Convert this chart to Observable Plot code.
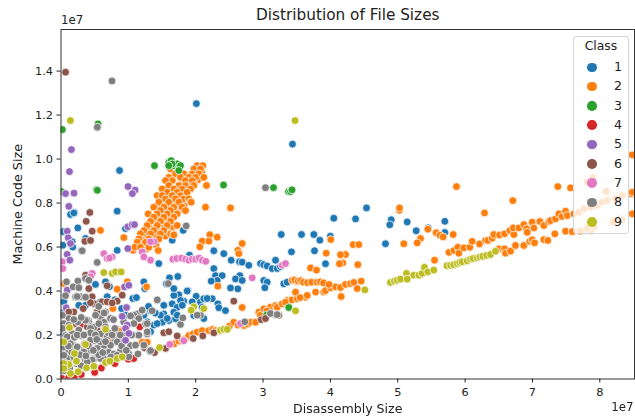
<!DOCTYPE html>
<html>
<head>
<meta charset="utf-8">
<script src="https://cdn.jsdelivr.net/npm/d3@7"></script>
<script src="https://cdn.jsdelivr.net/npm/@observablehq/plot@0.6"></script>
<style>
html,body{margin:0;padding:0;background:#fff;overflow:hidden}
#wrap{position:relative;width:635px;height:416px;font-family:"DejaVu Sans",sans-serif;color:#222;filter:blur(.35px)}
#legend{position:absolute;left:573px;top:36px;width:54px;height:196px;background:rgba(255,255,255,.8);border:1px solid #d6d6d6;border-radius:3px;font-size:12.6px;box-sizing:content-box}
#legend .t{position:absolute;left:0;width:54px;top:2px;text-align:center;line-height:14px;font-size:12.4px}
#legend .m{position:absolute;left:13px;width:9.5px;height:9.5px;border-radius:50%}
#legend .l{position:absolute;left:34px;width:20px;text-align:center;line-height:14px}
</style>
</head>
<body>
<div id="wrap"></div>
<script>
// All values are in units of 1e7 (as the axis offset text says)
const classes = ["1","2","3","4","5","6","7","8","9"];
const colors = ["#1f77b4","#ff7f0e","#2ca02c","#d62728","#9467bd","#8c564b","#e377c2","#7f7f7f","#bcbd22"];
const xTicks = [0,1,2,3,4,5,6,7,8];
const yTicks = [0,.2,.4,.6,.8,1.0,1.2,1.4];
const xMax = 8.515, yMax = 1.589;

const class1 = [[.834,.763],[.2,.757],[.141,.748],[.25,.687],[.958,.684],[1.814,.676],[1.651,.631],[.834,.585],[.027,.67],[.027,.608],[.166,.624],[.364,.639],[.304,.584],[1.452,.525],[1.908,.563],[2.269,.583],[2.417,.57],[2.527,.54],[2.64,.578],[2.65,.533],[2.69,.531],[2.788,.517],[2.269,.502],[2.962,.525],[3.01,.52],[3.061,.514],[3.185,.54],[3.136,.502],[3.21,.502],[3.259,.511],[3.27,.657],[3.571,.657],[3.754,.657],[3.843,.631],[3.422,.578],[3.764,.583],[2.294,.47],[2.393,.47],[2.319,.448],[2.23,.445],[2.655,.47],[2.591,.455],[2.69,.448],[2.625,.41],[2.517,.414],[3.011,.448],[3.061,.44],[3.026,.415],[1.611,.46],[1.734,.466],[1.883,.402],[1.749,.383],[1.675,.38],[2.007,.376],[1.823,.354],[2.071,.349],[2.245,.365],[2.329,.342],[2.343,.324],[2.442,.311],[1.651,.342],[1.774,.357],[1.725,.326],[1.526,.296],[1.675,.304],[1.6,.266],[1.503,.258],[1.7,.274],[2.096,.326],[2.12,.365],[1.972,.289],[1.526,.335],[1.8,.335],[1.725,.29],[1.477,.29],[1.378,.245],[1.28,.26],[1.23,.29],[1.329,.215],[1.428,.252],[1.577,.275],[1.23,.442],[1.244,.411],[1.066,.366],[.512,.43],[.661,.442],[.686,.374],[.586,.351],[.364,.335],[.265,.335],[.042,.351],[1.675,.411],[1.873,.4],[1.948,.351],[2.17,.366],[2.12,.275],[2.022,.29],[4.536,.778],[4.05,.731],[4.373,.728],[4.903,.724],[4.882,.701],[4.818,.615],[4.0,.649],[3.927,.524],[3.308,.433],[3.358,.44],[5.14,.714],[5.274,.674],[5.452,.687],[5.699,.717],[5.699,.666],[.19,.755],[.175,.6],[1.566,.433],[2.01,1.252],[3.437,1.068],[.869,.948],[.96,.29],[.9,.32],[.8,.36],[.72,.42],[.02,.3],[.03,.21],[1.12,.37],[1.4,.3],[1.33,.31],[1.3,.33]];

const class2Blob = [[2.05,.965],[1.99,.945],[1.93,.925],[1.87,.91],[2.09,.94],[2.03,.905],[1.97,.89],[1.91,.875],[1.83,.89],[1.78,.875],[1.72,.865],[1.66,.85],[1.62,.87],[1.56,.845],[1.84,.84],[1.79,.82],[1.74,.825],[1.66,.8],[1.58,.79],[1.53,.81],[1.47,.79],[1.83,.79],[1.76,.77],[1.7,.755],[1.64,.745],[1.55,.72],[1.6,.73],[1.5,.75],[1.44,.73],[1.4,.71],[1.35,.7],[1.31,.69],[1.52,.695],[1.65,.69],[1.45,.665],[1.4,.65],[1.55,.65],[1.28,.65],[1.22,.63],[1.36,.62],[1.2,.61],[1.41,.61],[1.14,.6],[1.26,.59],[1.07,.585],
[2.022,.97],[2.106,.97],[1.626,.955],[1.972,.955],[2.071,.955],[1.7,.933],[1.948,.933],[2.047,.933],[1.824,.933],[1.601,.917],[1.774,.917],[1.898,.917],[1.997,.917],[2.121,.917],[1.651,.902],[1.552,.902],[1.849,.902],[1.948,.902],[1.601,.88],[1.75,.88],[1.849,.88],[1.972,.88],[2.16,.88],[1.502,.864],[1.675,.864],[1.799,.864],[1.923,.864],[1.576,.849],[1.725,.849],[1.873,.849],[1.428,.834],[1.502,.834],[1.651,.834],[1.774,.834],[1.552,.819],[1.7,.819],[1.824,.819],[1.898,.819],[1.453,.804],[1.601,.804],[1.75,.804],[1.923,.804],[1.378,.781],[1.527,.781],[1.675,.781],[1.799,.781],[1.477,.766],[1.626,.766],[1.849,.766],[1.294,.751],[1.428,.751],[1.576,.751],[1.725,.751],[1.378,.736],[1.527,.736],[1.675,.736],[1.329,.717],[1.477,.717],[1.626,.717],[1.279,.698],[1.428,.698],[1.576,.698],[1.725,.698],[1.23,.675],[1.378,.675],[1.527,.675],[1.18,.66],[1.329,.66],[1.477,.66],[1.626,.66],[1.675,.66],[1.156,.637],[1.304,.637],[1.453,.637],[1.131,.622],[1.255,.622],[1.096,.599],[1.18,.599],[1.304,.599]];
const class2Scattered = [[2.145,.781],[2.21,.656],[2.096,.627],[2.195,.627],[2.319,.645],[1.443,.584],[1.675,.655],[2.517,.778],[1.933,.804],[.933,.643],[.586,.676],[.834,.408],[1.27,.419],[2.329,.422],[2.061,.601],[2.69,.616],[2.625,.585],[2.64,.57],[2.69,.325],[3.705,.505],[3.794,.495],[3.482,.389],[3.507,.442],[3.938,.572],[4.224,.566],[4.15,.565],[4.184,.528],[4.135,.524],[4.407,.52],[4.338,.611],[4.422,.611],[4.006,.634],[4.16,.375],[5.026,.767],[6.288,.755],[5.447,.681],[5.571,.665],[5.625,.654],[5.674,.646],[5.823,.657],[5.338,.639],[5.289,.619],[5.09,.615],[5.546,.54],[8.48,1.019],[7.377,.875],[7.565,.869],[5.872,.875],[6.708,.811],[5.026,.778],[8.48,.842],[.597,.179],[.76,.167],[.859,.223],[.81,.197],[1.206,.167],[1.28,.167],[.77,.32],[.86,.217],[.985,.442],[.042,.434]];
const class2Lower = [[1.68,.16],[1.75,.172],[1.8,.178],[1.849,.183],[1.898,.198],[1.96,.205],[2.022,.213],[2.096,.22],[2.195,.22],[2.25,.225],[2.294,.22],[2.35,.218],[2.442,.228],[2.5,.24],[2.566,.258],[2.63,.245],[2.715,.243],[2.77,.25],[2.814,.258],[2.888,.258],[2.937,.304],[2.96,.29],[3.012,.319],[3.11,.327],[3.06,.31],[3.185,.334],[3.21,.326],[3.284,.342],[3.358,.357],[3.383,.334],[3.333,.349],[3.43,.36],[3.507,.365],[3.482,.395],[3.63,.372],[3.655,.38],[3.55,.37],[3.78,.395],[3.902,.396],[3.927,.402],[4.0,.415],[4.076,.419],[4.15,.416],[4.224,.43],[4.298,.434],[4.348,.439],[4.398,.411],[4.457,.445],[3.433,.448],[3.47,.45],[3.52,.445],[3.56,.447],[3.6,.44],[3.66,.438],[3.72,.44],[3.804,.44],[3.85,.442],[3.898,.437],[3.98,.43]];
const class2Upper = [[5.759,.576],[5.833,.584],[5.892,.599],[5.907,.572],[5.981,.596],[6.07,.599],[6.105,.626],[6.214,.614],[6.303,.63],[6.338,.63],[6.402,.64],[6.427,.657],[6.511,.655],[6.585,.66],[6.664,.675],[6.724,.657],[6.714,.687],[6.798,.687],[6.872,.702],[6.912,.683],[6.922,.667],[6.996,.713],[7.021,.687],[7.11,.716],[7.169,.698],[7.243,.716],[7.268,.72],[7.342,.728],[7.392,.751],[7.441,.739],[7.491,.763],[7.516,.743],[7.614,.751],[7.689,.758],[7.763,.774],[7.862,.781],[7.961,.789],[8.035,.804],[8.109,.811],[8.109,.849],[8.233,.819],[8.332,.834],[8.456,.842],[8.48,.849],[7.897,.917],[7.812,.895],[8.094,.854]];
const class2Bottom = [[6.501,.592],[6.585,.592],[6.6,.572],[6.674,.581],[6.748,.607],[6.872,.607],[6.961,.626],[6.996,.633],[7.031,.619],[7.169,.634],[7.228,.63],[7.332,.66],[7.491,.672],[7.59,.67],[7.812,.69],[7.911,.69],[7.862,.675],[8.208,.72],[8.307,.728],[8.48,.751],[8.2,.714],[8.33,.722],[7.81,.684],[7.71,.672]];

const class3 = [[.55,1.16],[.54,1.143],[.02,1.134],[.007,.852],[.527,.861],[.54,.858],[1.388,.97],[2.413,.882],[3.155,.87],[3.378,.852],[3.408,.852],[3.43,.86],[1.6,.985],[1.636,.993],[1.675,.97],[1.725,.978],[1.774,.97],[1.749,.948],[1.651,.978],[1.6,.97],[3.051,.29],[3.382,.325]];
const class4 = [[.02,.002],[.111,.004],[.2,.012],[.3,.02],[.5,.03],[.6,.05],[.8,.07],[1.0,.09],[1.08,.093],[.24,.245],[.315,.25],[1.17,.237]];
const class5 = [[.155,1.043],[.126,.943],[.995,.875],[1.10,.859],[1.06,.843],[.067,.843],[.193,.845],[.116,.785],[.092,.672],[.107,.642],[.141,.616],[.092,.567],[.131,.54],[.992,.692],[1.057,.702],[1.091,.702],[.992,.593],[.077,.324],[.943,.419],[1.007,.426],[.092,.404]];
const class5Top = [[.973,.325],[.909,.285],[.983,.245],[.958,.23],[1.007,.207],[.958,.176]];
const class6 = [[.067,1.395],[.428,.757],[.374,.717],[.463,.672],[.354,.626],[.438,.63],[.33,.32],[.686,.424],[.463,.374],[.487,.343],[.438,.347],[.611,.351],[.686,.351],[.834,.354],[.909,.381],[.76,.346],[.413,.411],[.215,.252],[.537,.305],[.19,.305],[.116,.305],[2.566,.354],[1.526,.21],[1.6,.215],[1.725,.196],[1.24,.142],[1.388,.12],[1.552,.139],[1.963,.184],[2.105,.196],[2.269,.21],[2.973,.27],[3.036,.275],[3.234,.29],[3.185,.293],[.364,.472],[.537,.222],[.389,.237],[.909,.199]];
const class7 = [[.636,.57],[.686,.548],[.76,.555],[.72,.55],[.018,.533],[.027,.502],[.463,.48],[.438,.465],[1.329,.54],[1.206,.578],[1.23,.555],[1.378,.624],[1.329,.624],[1.66,.545],[1.72,.548],[1.79,.55],[1.85,.545],[1.9,.54],[1.95,.545],[2.0,.545],[2.05,.55],[2.1,.54],[2.15,.535],[2.839,.46],[3.284,.517],[3.333,.525],[2.665,.252],[1.823,.174],[1.616,.157]];
const class8 = [[.757,1.355],[.54,1.145],[3.036,.87],[.537,.53],[.315,.583],[1.859,.696],[1.592,.434],[1.428,.358],[1.774,.248],[1.809,.278],[2.071,.29],[2.022,.29],[2.729,.26],[3.11,.298],[3.21,.293],[1.318,.126],[.082,.442],[.25,.445],[.181,.419],[.265,.415],[.364,.457],[.413,.449],[.29,.374],[.215,.374],[.116,.275],[.042,.252],
[.24,.375],[.067,.379],[.364,.372],[1.206,.308],[1.132,.296],[1.082,.281],[1.429,.36],[.587,.278],[.637,.258],[.414,.263],[.488,.235],[.315,.197],[.166,.178],[.067,.197],[.587,.205],[.488,.175],[.637,.152],[.81,.175],[.934,.175],[1.033,.152],[1.142,.2],[1.255,.25],[1.28,.205],[1.33,.129],[1.142,.114],[1.008,.114],[.884,.129],[.711,.122],[.587,.122],[.438,.129],[.29,.137],[.191,.152],[.092,.129],[.018,.137],[.141,.091],[.34,.099],[.488,.091],[.637,.091],[.785,.114],[.067,.091],[.24,.069],[.364,.084],[.043,.038],
[1.082,.29],[1.205,.313],[1.354,.31],[1.156,.275],[1.032,.287],[1.082,.252],[1.28,.252],[1.156,.199],[1.28,.214],[.834,.169],[.686,.192],[.735,.154],[.834,.108],[1.007,.101],[1.106,.154],[1.23,.154],[.562,.252],[.389,.267],[.438,.177],[.587,.169],[.29,.199],[.166,.207],[.092,.192],[.042,.146],[.24,.146],[.339,.123],[.537,.139],[.587,.093],[.463,.086],[.389,.078],[.24,.078],[.117,.101],[.042,.108],[.364,.267],[.513,.29],[.661,.305],[.735,.275],[.661,.237],[.438,.23],[.265,.222],[.117,.245],
[.14,.16],[.2,.19],[.24,.2],[.16,.12],[.11,.15],[.02,.17],[.03,.07],[.09,.06],[.13,.05],[.19,.1],[.28,.11],[.3,.06],[.37,.105],[.41,.15],[.44,.21],[.51,.2],[.53,.18],[.56,.11],[.62,.12],[.66,.17],[.7,.21],[.76,.2],[.74,.1],[.48,.13],[.35,.16],[.34,.2],[.25,.26],[.3,.28],[.19,.27],[.02,.23],[.78,.27],[.8,.23],[.88,.2],[.9,.15],[.97,.13],[1.05,.2],[.93,.26],[.02,.29],[.56,.33],[.64,.3]];
const class9 = [[.14,1.175],[3.475,1.175],[4.511,.405],[4.892,.439],[4.95,.445],[4.992,.449],[5.04,.454],[5.13,.48],[5.14,.454],[5.238,.472],[5.313,.472],[5.363,.48],[5.397,.508],[5.446,.487],[5.535,.495],[5.73,.515],[5.783,.517],[5.83,.52],[5.882,.525],[5.92,.53],[5.957,.533],[6.031,.537],[6.08,.545],[6.12,.548],[6.18,.551],[6.22,.555],[6.263,.558],[6.32,.562],[6.377,.566],[6.451,.581],[.636,.484],[.76,.48],[.809,.487],[.894,.487],[1.972,.328],[1.933,.313],[2.12,.32],[2.368,.222],[2.417,.226],[2.468,.226],[3.482,.31],[.126,.234],[.661,.226],[.042,.169],[.364,.157],[.2,.116],[.23,.081],[.116,.066],[.042,.07],[.042,.048],[.141,.025],[.255,.033],[.379,.051],[.487,.058],[.661,.075],[.725,.081],[.834,.093],[.909,.101],[1.462,.143]];

const layers = [
  ["1",class1],["2",class2Blob],["2",class2Scattered],["2",class2Lower],["2",class2Upper],["2",class2Bottom],
  ["3",class3],["4",class4],["5",class5],["6",class6],["7",class7],["8",class8],["5",class5Top],["9",class9]
];
const rows = layers.flatMap(([c,pts]) => pts.map(([x,y]) => ({x,y,c})));

const chart = Plot.plot({
  width:635, height:416,
  marginLeft:60.5, marginRight:1, marginTop:29, marginBottom:37.5,
  style:{fontFamily:"'DejaVu Sans',sans-serif",fontSize:"11.3px",color:"#222",background:"#fff",overflow:"visible"},
  x:{domain:[0,xMax]},
  y:{domain:[0,yMax]},
  color:{domain:classes,range:colors},
  marks:[
    Plot.dot(rows,{x:"x",y:"y",fill:"c",r:3.9,stroke:"white",strokeWidth:.75,clip:true}),
    Plot.frame({stroke:"#333",strokeWidth:1}),
    Plot.axisX({ticks:xTicks,tickFormat:d=>String(d),tickSize:4,tickPadding:4.5,label:null,fontSize:11.3}),
    Plot.axisY({ticks:yTicks,tickFormat:d3.format(".1f"),tickSize:4,tickPadding:4,label:null,fontSize:11.3}),
    Plot.text(["Distribution of File Sizes"],{frameAnchor:"top",dy:-14,fontSize:15.3,fill:"#222",lineAnchor:"middle"}),
    Plot.text(["Disassembly Size"],{frameAnchor:"bottom",dy:29.5,fontSize:12.6,fill:"#222",lineAnchor:"middle"}),
    Plot.text(["Machine Code Size"],{frameAnchor:"left",dx:-43.5,rotate:-90,fontSize:12.8,fill:"#222",textAnchor:"middle"}),
    Plot.text(["1e7"],{frameAnchor:"top-left",dy:-9,dx:0,fontSize:11.8,fill:"#222",lineAnchor:"middle",textAnchor:"start"}),
    Plot.text(["1e7"],{frameAnchor:"bottom-right",dy:28.5,dx:-1,fontSize:11.8,fill:"#222",lineAnchor:"middle",textAnchor:"end"})
  ]
});
const wrap = document.getElementById("wrap");
wrap.appendChild(chart);

// Legend box, laid over the chart with a translucent background
const legend = document.createElement("div");
legend.id = "legend";
const t = document.createElement("div"); t.className="t"; t.textContent="Class"; legend.appendChild(t);
classes.forEach((c,i)=>{
  const top = 25.5 + i*19.33;
  const m = document.createElement("div"); m.className="m"; m.style.top=top+"px"; m.style.background=colors[i];
  const l = document.createElement("div"); l.className="l"; l.style.top=(top-2.5)+"px"; l.textContent=c;
  legend.append(m,l);
});
wrap.appendChild(legend);
</script>
</body>
</html>
